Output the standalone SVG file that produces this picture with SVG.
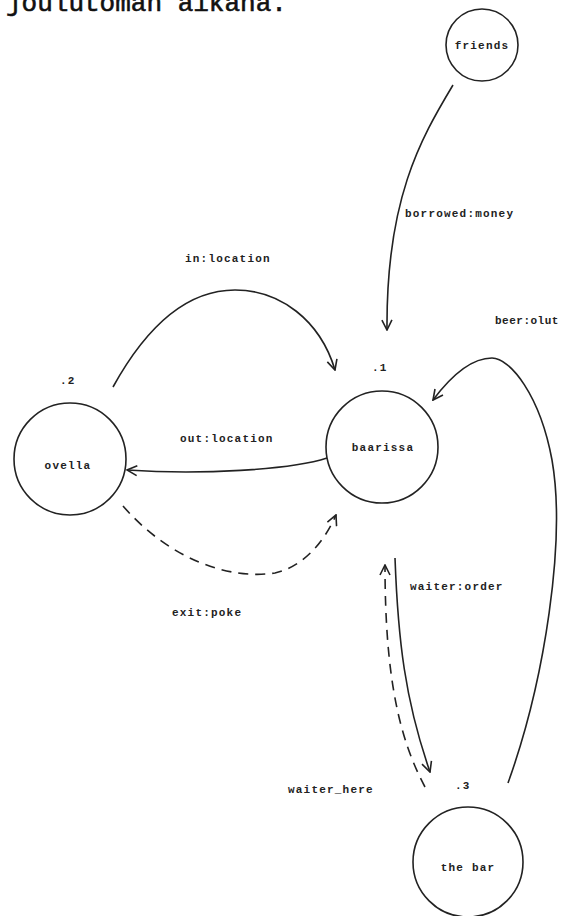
<svg xmlns="http://www.w3.org/2000/svg" width="562" height="916" viewBox="0 0 562 916">
<style>
.node circle{fill:none;stroke:#222;stroke-width:1.6}
text{font-family:"Liberation Mono","DejaVu Sans Mono",monospace;font-weight:bold;fill:#222;font-size:11px;letter-spacing:1.2px}
.c{text-anchor:middle}
.e{fill:none;stroke:#222;stroke-width:1.6}
.d{stroke-dasharray:10 7}
.title{font-size:26px;font-weight:normal;letter-spacing:0;fill:#111;stroke:#111;stroke-width:0.6}
</style>
<defs>
<marker id="a" viewBox="0 0 12 12" refX="11" refY="6" markerWidth="12" markerHeight="12" markerUnits="userSpaceOnUse" orient="auto">
<path d="M1,1 L11,6 L1,11" fill="none" stroke="#222" stroke-width="1.6"/>
</marker>
</defs>
<rect width="562" height="916" fill="#fff"/>
<text class="title" x="6" y="11">joulutoman aikana.</text>
<g id="friends" class="node"><circle cx="482" cy="45" r="36"/><text class="c" x="482" y="49">friends</text></g>
<g id="baarissa" class="node"><circle cx="382" cy="447" r="56"/><text class="c" x="383" y="451">baarissa</text><text x="372" y="371">.1</text></g>
<g id="ovella" class="node"><circle cx="70" cy="459" r="56"/><text class="c" x="68" y="469">ovella</text><text x="60" y="384">.2</text></g>
<g id="thebar" class="node"><circle cx="468" cy="862" r="55"/><text class="c" x="468" y="871">the bar</text><text x="455" y="789">.3</text></g>
<g id="connectors">
<path class="e" marker-end="url(#a)" d="M453,85 C420,140 386,200 387,330"/>
<text x="405" y="217">borrowed:money</text>
<path class="e" marker-end="url(#a)" d="M113,387 C150,320 190,290 235,290 C280,290 320,320 335,370"/>
<text x="185" y="262">in:location</text>
<path class="e" marker-end="url(#a)" d="M327,458 C290,470 200,475 127,470"/>
<text x="180" y="442">out:location</text>
<path class="e d" marker-end="url(#a)" d="M123,506 C170,560 230,580 275,573 C305,566 325,540 336,515"/>
<text x="172" y="616">exit:poke</text>
<path class="e" marker-end="url(#a)" d="M508,783 C545,680 566,540 552,460 C540,395 510,358 492,358 C470,358 448,380 433,400"/>
<text x="495" y="324" style="letter-spacing:0.5px">beer:olut</text>
<path class="e" marker-end="url(#a)" d="M395,558 C398,640 405,700 430,772"/>
<text x="410" y="590">waiter:order</text>
<path class="e d" marker-end="url(#a)" d="M425,787 C400,740 385,680 385,565"/>
<text x="288" y="793">waiter_here</text>
</g>
</svg>
